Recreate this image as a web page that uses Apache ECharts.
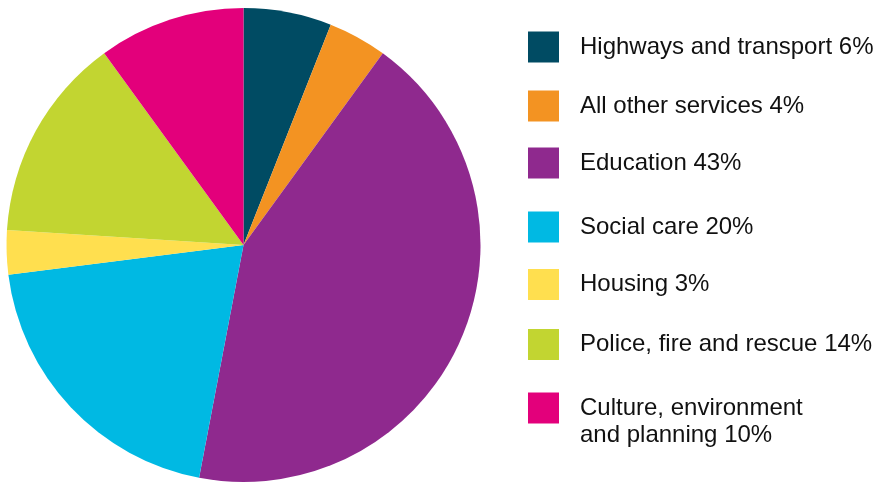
<!DOCTYPE html>
<html>
<head>
<meta charset="utf-8">
<script src="https://cdn.jsdelivr.net/npm/echarts@6/dist/echarts.min.js"></script>
<style>
html,body{margin:0;padding:0;background:#fff;}
#chart{width:878px;height:483px;}
</style>
</head>
<body>
<div id="chart"></div>
<script>
// Data
var categories = ['Highways and transport', 'All other services', 'Education', 'Social care', 'Housing', 'Police, fire and rescue', 'Culture, environment and planning'];
var legendLabels = ['Highways and transport', 'All other services', 'Education', 'Social care', 'Housing', 'Police, fire and rescue', 'Culture, environment\nand planning'];
var values = [6, 4, 43, 20, 3, 14, 10];
var colors = ['#004B63', '#F39322', '#8F298E', '#00B9E3', '#FFDF4F', '#C2D531', '#E3007B'];

// Layout (legend row centres, px)
var legendCentres = [47, 106, 163, 227, 284.5, 344.5, 408];

var chart = echarts.init(document.getElementById('chart'), null, {renderer: 'canvas'});

var legends = categories.map(function (name, i) {
  var twoLine = legendLabels[i].indexOf('\n') >= 0;
  var h = twoLine ? 81 : 31;
  return {
    data: [name],
    left: 528,
    top: legendCentres[i] - h / 2,
    orient: 'vertical',
    icon: 'rect',
    itemWidth: 31,
    itemHeight: 31,
    selectedMode: false,
    padding: 0,
    formatter: function (n) {
      var idx = categories.indexOf(n);
      var txt = legendLabels[idx] + ' ' + values[idx] + '%';
      return txt.indexOf('\n') >= 0 ? ' \n' + txt : txt;
    },
    textStyle: {
      fontFamily: "'Liberation Sans', Arial, Helvetica, sans-serif",
      fontSize: 24,
      color: '#111',
      lineHeight: 27,
      padding: [0, 0, 0, 16]
    }
  };
});

chart.setOption({
  animation: false,
  color: colors,
  legend: legends,
  series: [{
    type: 'pie',
    center: [243.5, 245],
    radius: [0, 237],
    startAngle: 90,
    clockwise: true,
    label: {show: false},
    labelLine: {show: false},
    emphasis: {disabled: true},
    itemStyle: {borderWidth: 0},
    data: categories.map(function (c, i) {
      return {name: c, value: values[i]};
    })
  }]
});
</script>
</body>
</html>
